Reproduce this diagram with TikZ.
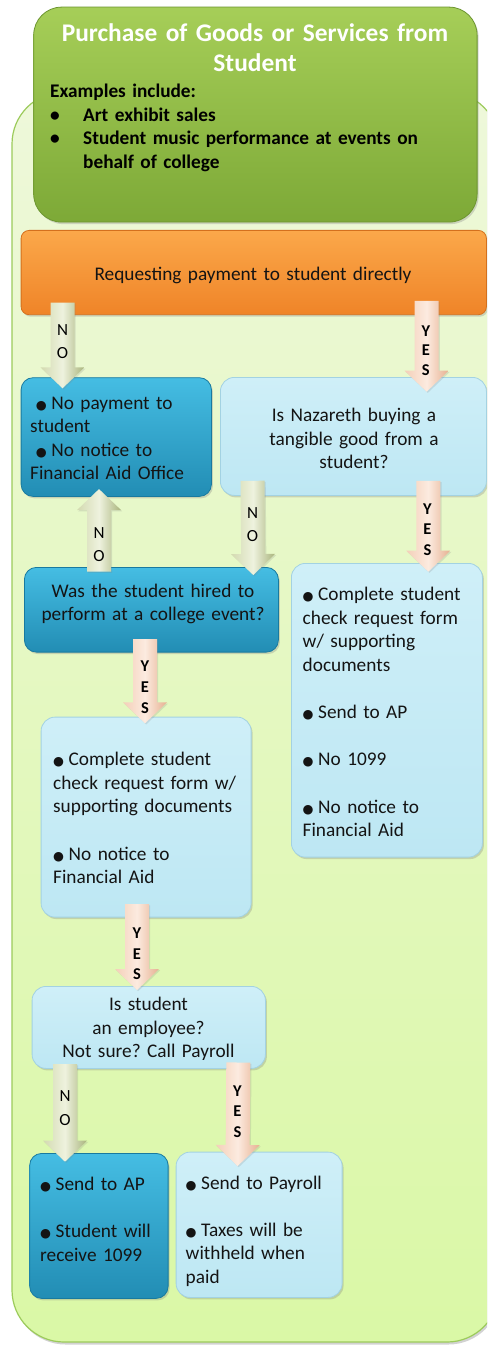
\documentclass[tikz,border=0pt]{standalone}
\usepackage{fontspec}
\setmainfont{Carlito}
\newfontfamily\symf{DejaVu Sans}
\usetikzlibrary{calc,shadows}
\definecolor{panelT}{HTML}{EEF8DA}
\definecolor{panelB}{HTML}{DAF8A6}
\definecolor{panelD}{HTML}{9CCB5B}
\definecolor{hdrT}{HTML}{A6CE58}
\definecolor{hdrB}{HTML}{7DA937}
\definecolor{hdrD}{HTML}{6C9530}
\definecolor{orT}{HTML}{FBA84A}
\definecolor{orB}{HTML}{EF8428}
\definecolor{orD}{HTML}{D4701D}
\definecolor{dbT}{HTML}{45BDE3}
\definecolor{dbB}{HTML}{228DB4}
\definecolor{dbD}{HTML}{187AA0}
\definecolor{lbT}{HTML}{CFEFF8}
\definecolor{lbB}{HTML}{BDE7F3}
\definecolor{lbD}{HTML}{A3D2E2}
\definecolor{gaL}{HTML}{D3DAB0}
\definecolor{gaM}{HTML}{EEF2DE}
\definecolor{gaR}{HTML}{A9B47C}
\definecolor{paL}{HTML}{F4CFB8}
\definecolor{paM}{HTML}{FCEBE0}
\definecolor{paR}{HTML}{E6B090}
\newcommand\bul{\makebox[15.5pt][l]{\symf\fontsize{12.5}{12.5}\selectfont ●}}
\frenchspacing
\begin{document}
\begin{tikzpicture}[x=1pt,y=-1pt,
  shadowed/.style={drop shadow={opacity=0.3,shadow xshift=1.5pt,shadow yshift=-2pt}},
  panel/.style={rounded corners=52pt, top color=panelT, bottom color=panelB, draw=panelD, line width=1.2pt, drop shadow={opacity=0.35,shadow xshift=1.5pt,shadow yshift=-2.5pt}},
  hdrbox/.style={rounded corners=28pt, top color=hdrT, bottom color=hdrB, draw=hdrD, line width=0.8pt, shadowed, inner sep=0pt, anchor=north west},
  orbox/.style={rounded corners=8pt, top color=orT, bottom color=orB, draw=orD, line width=0.8pt, shadowed, inner sep=0pt, anchor=north west},
  dbox/.style={rounded corners=12pt, top color=dbT, bottom color=dbB, draw=dbD, line width=0.8pt, shadowed, inner sep=0pt, anchor=north west},
  lbox/.style={rounded corners=14pt, top color=lbT, bottom color=lbB, draw=lbD, line width=0.8pt, shadowed, inner sep=0pt, anchor=north west},
  boxtxt/.style={inner sep=0pt, font=\fontsize{19.3}{23.6}\selectfont, text=black!92},
  lefttxt/.style={boxtxt, align=left, anchor=base west},
  ctrtxt/.style={boxtxt, align=center, anchor=base},
  lblno/.style={inner sep=0pt, text width=14pt, align=center, anchor=base, font=\fontsize{17}{23.3}\selectfont},
  lblyes/.style={inner sep=0pt, text width=14pt, align=center, anchor=base, font=\bfseries\fontsize{16.5}{20.8}\selectfont},
  fatarrow/.style={to path={let \p1=($(\tikztotarget)!21pt!(\tikztostart)$) in
    ($(\tikztostart)!12pt!90:(\tikztotarget)$) -- ($(\p1)!12pt!90:(\tikztotarget)$)
    -- ($(\p1)!22pt!90:(\tikztotarget)$) -- (\tikztotarget)
    -- ($(\p1)!22pt!-90:(\tikztotarget)$) -- ($(\p1)!12pt!-90:(\tikztotarget)$)
    -- ($(\tikztostart)!12pt!-90:(\tikztotarget)$) -- cycle}},
  garrow/.style={fatarrow, left color=gaL, right color=gaR, middle color=gaM, drop shadow={opacity=0.2,shadow xshift=1.2pt,shadow yshift=-1.2pt}},
  parrow/.style={fatarrow, left color=paL, right color=paR, middle color=paM, drop shadow={opacity=0.2,shadow xshift=1.2pt,shadow yshift=-1.2pt}}
]
\useasboundingbox (0,0) rectangle (487,1348);
\clip (0,0) rectangle (487,1348);
\fill[white] (0,0) rectangle (487,1348);

% background panel
\path[panel] (12,92) rectangle (499,1342);

% header
\node[hdrbox, minimum width=443.4pt, minimum height=215pt] (hdr) at (33.3,6.7) {};
\node[anchor=base, inner sep=0pt, text width=440pt, align=center, text=white,
      font=\bfseries\fontsize{25.4}{30}\selectfont] (title) at (255,41.7)
      {Purchase of Goods or Services from\\Student};
\node[anchor=base west, inner sep=0pt, text width=420pt, align=left, text=black,
      font=\bfseries\fontsize{19.3}{23.6}\selectfont] (ex) at (50,97.7)
      {Examples include:\\
       \makebox[33pt][l]{\textbullet}Art exhibit sales\\
       \makebox[33pt][l]{\textbullet}Student music performance at events on\\
       \hspace*{33pt}behalf of college};

% orange bar
\node[orbox, minimum width=465.3pt, minimum height=84.3pt] (req) at (20.7,230) {};
\node[ctrtxt, text width=440pt] (treq) at (253,280.7) {Requesting payment to student directly};

% boxes
\node[dbox, minimum width=190.3pt, minimum height=118.7pt] (boxA) at (20.7,377.3) {};
\node[lbox, minimum width=266pt, minimum height=118pt] (boxB) at (220,377) {};
\node[dbox, minimum width=254pt, minimum height=84.7pt] (boxC) at (24,567) {};
\node[lbox, minimum width=191pt, minimum height=293.7pt] (boxD) at (291,563) {};
\node[lbox, minimum width=210pt, minimum height=200pt] (boxE) at (40.7,716.7) {};
\node[lbox, minimum width=233.3pt, minimum height=82pt] (boxF) at (31.7,986) {};
\node[dbox, minimum width=138.4pt, minimum height=145pt] (boxG) at (29.3,1153) {};
\node[lbox, minimum width=166pt, minimum height=145.3pt] (boxH) at (175.7,1151.7) {};

% box texts
\node[lefttxt, text width=180pt] (tA) at (30,409)
  {\hspace*{5.7pt}\bul No payment to\\student\\\hspace*{5.7pt}\bul No notice to\\Financial Aid Office};
\node[ctrtxt, text width=250pt] (tB) at (354,421.7)
  {Is Nazareth buying a\\tangible good from a\\student?};
\node[ctrtxt, text width=250pt] (tC) at (153,597)
  {Was the student hired to\\perform at a college event?};
\node[lefttxt, text width=180pt] (tD) at (302.5,600.7)
  {\bul Complete student\\check request form\\w/ supporting\\documents\\[23.6pt]\bul Send to AP\\[23.6pt]\bul No 1099\\[23.6pt]\bul No notice to\\Financial Aid};
\node[lefttxt, text width=200pt] (tE) at (53,765.7)
  {\bul Complete student\\check request form w/\\supporting documents\\[23.6pt]\bul No notice to\\Financial Aid};
\begin{scope}
\clip (0,980) rectangle (487,1059.5);
\node[ctrtxt, text width=230pt] (tF) at (148.5,1010.7)
  {Is student\\an employee?\\Not sure? Call Payroll};
\end{scope}
\node[lefttxt, text width=130pt] (tG) at (40,1190.7)
  {\bul Send to AP\\[23.6pt]\bul Student will\\receive 1099};
\node[lefttxt, text width=160pt] (tH) at (185.5,1189)
  {\bul Send to Payroll\\[23.6pt]\bul Taxes will be\\withheld when\\paid};

% connector end points
\coordinate (n1s) at ([xshift=41.8pt,yshift=12.6pt]req.south west);
\coordinate (n1e) at ([xshift=41.8pt,yshift=-11pt]boxA.north west);
\coordinate (y1s) at ([xshift=-60.2pt,yshift=14.3pt]req.south east);
\coordinate (y1e) at ([xshift=-60.2pt,yshift=-14.7pt]boxB.north east);
\coordinate (n2s) at ([xshift=75pt,yshift=-4.7pt]boxC.north west);
\coordinate (n2e) at ([xshift=78.3pt,yshift=7.7pt]boxA.south west);
\coordinate (n3s) at ([xshift=32.5pt,yshift=15pt]boxB.south west);
\coordinate (n3e) at ([xshift=-25.5pt,yshift=-8pt]boxC.north east);
\coordinate (y2s) at ([xshift=-58.5pt,yshift=15pt]boxB.south east);
\coordinate (y2e) at ([xshift=-54.5pt,yshift=-8.7pt]boxD.north east);
\coordinate (y3s) at ([xshift=121pt,yshift=13.4pt]boxC.south west);
\coordinate (y3e) at ([xshift=104.3pt,yshift=-6.6pt]boxE.north west);
\coordinate (y4s) at ([xshift=96.3pt,yshift=13.4pt]boxE.south west);
\coordinate (y4e) at ([xshift=105.3pt,yshift=-4pt]boxF.north west);
\coordinate (n5s) at ([xshift=33.3pt,yshift=4.7pt]boxF.south west);
\coordinate (n5e) at ([xshift=35.7pt,yshift=-8.7pt]boxG.north west);
\coordinate (y5s) at ([xshift=-27.5pt,yshift=6.3pt]boxF.south east);
\coordinate (y5e) at ([xshift=61.8pt,yshift=-14.3pt]boxH.north west);

% connectors
\path[garrow] (n1s) to (n1e);
\path[parrow] (y1s) to (y1e);
\path[garrow] (n2s) to (n2e);
\path[garrow] (n3s) to (n3e);
\path[parrow] (y2s) to (y2e);
\path[parrow] (y3s) to (y3e);
\path[parrow] (y4s) to (y4e);
\path[garrow] (n5s) to (n5e);
\path[parrow] (y5s) to (y5e);

% connector labels
\node[lblno] (ln1) at (62.5,335) {N\\O};
\node[lblyes, font=\bfseries\fontsize{16.5}{19.5}\selectfont] (ly1) at (425.8,336) {Y\\E\\S};
\node[lblno] (ln2) at (99,538) {N\\O};
\node[lblno] (ln3) at (252.5,518.3) {N\\O};
\node[lblyes] (ly2) at (427.5,514) {Y\\E\\S};
\node[lblyes] (ly3) at (145,671.7) {Y\\E\\S};
\node[lblyes] (ly4) at (137,938.3) {Y\\E\\S};
\node[lblno] (ln5) at (65,1101.7) {N\\O};
\node[lblyes] (ly5) at (237.5,1096) {Y\\E\\S};
\end{tikzpicture}
\end{document}
